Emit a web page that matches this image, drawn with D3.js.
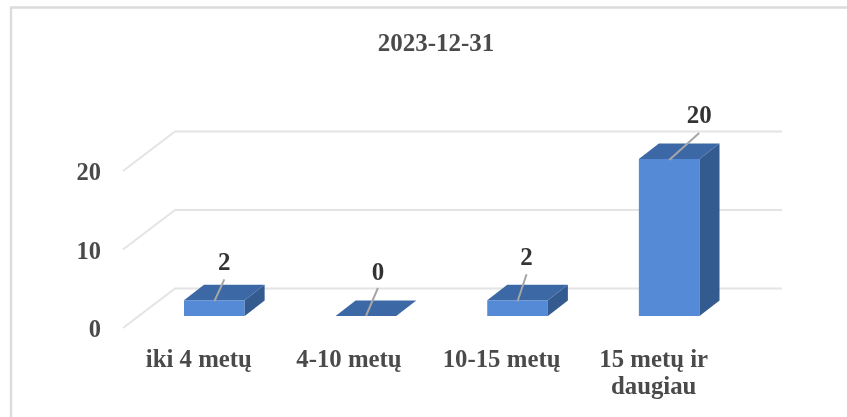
<!DOCTYPE html>
<html><head><meta charset="utf-8">
<script src="https://cdn.jsdelivr.net/npm/d3@7"></script>
<style>html,body{margin:0;background:#fff}svg{display:block;filter:blur(0.4px)}text{font-family:"Liberation Serif",serif;font-weight:bold;fill:#4a4a4a}</style>
</head><body><svg id="c" width="847" height="417"></svg>
<script>
const title = "2023-12-31";
const categories = ["iki 4 metų","4-10 metų","10-15 metų","15 metų ir|daugiau"];
const values = [2,0,2,20];
const yTicks = [0,10,20];
const depth = {dx:20,dy:15.5};
const svg = d3.select("#c");
svg.append("path").attr("d","M11,417V7.5H847").attr("fill","none").attr("stroke","#dcdcdc").attr("stroke-width",2.4);
const y = d3.scaleLinear().domain([0,20]).range([316,159]);
const x = d3.scaleBand().domain(categories).range([138.5,745]).paddingInner(0.6).paddingOuter(0.3);
const gy = d3.scaleLinear().domain([0,20]).range([288.5,131.5]);
const gridL=175,gridR=782,sideX=123,sideDy=39.5;
yTicks.forEach(t=>{
  svg.append("path").attr("d",`M${sideX},${gy(t)+sideDy}L${gridL},${gy(t)}H${gridR}`).attr("fill","none").attr("stroke","#e4e4e4").attr("stroke-width",2);
  svg.append("text").attr("x",101).attr("y",gy(t)+sideDy+9).attr("text-anchor","end").attr("font-size",24.5).text(t);
});
const leaderDx=[10,12,9,30], leaderLen=[22,28,27,27], labelDy=[9,8,9,10], catShift=[-15.5,-17,-16,-15.5];
categories.forEach((c,i)=>{
  const x0=x(c),x1=x0+x.bandwidth(),b=y(0),t=y(values[i]);
  const g=svg.append("g");
  if(values[i]>0){
    g.append("rect").attr("x",x0).attr("y",t).attr("width",x1-x0).attr("height",b-t).attr("fill","#558ad6");
    g.append("path").attr("d",`M${x1},${b}V${t}l${depth.dx},${-depth.dy}V${b-depth.dy}Z`).attr("fill","#345b8f");
  }
  g.append("path").attr("d",`M${x0},${t}h${x1-x0}l${depth.dx},${-depth.dy}h${x0-x1}Z`).attr("fill","#3c69a6");
  const mx=(x0+x1)/2, ty=t+(values[i]>0?1:0);
  g.append("line").attr("x1",mx).attr("y1",ty).attr("x2",mx+leaderDx[i]).attr("y2",ty-leaderLen[i]).attr("stroke","#a6a6a6").attr("stroke-width",2);
  svg.append("text").attr("x",mx+leaderDx[i]).attr("y",ty-leaderLen[i]-labelDy[i]).attr("text-anchor","middle").attr("font-size",25).style("fill","#333").text(values[i]);
  c.split("|").forEach((s,k)=>{
    svg.append("text").attr("x",mx+catShift[i]).attr("y",366.5+k*27.5).attr("text-anchor","middle").attr("font-size",24.8).text(s);
  });
});
svg.append("text").attr("x",436).attr("y",50.5).attr("text-anchor","middle").attr("font-size",25).text(title);
</script></body></html>
